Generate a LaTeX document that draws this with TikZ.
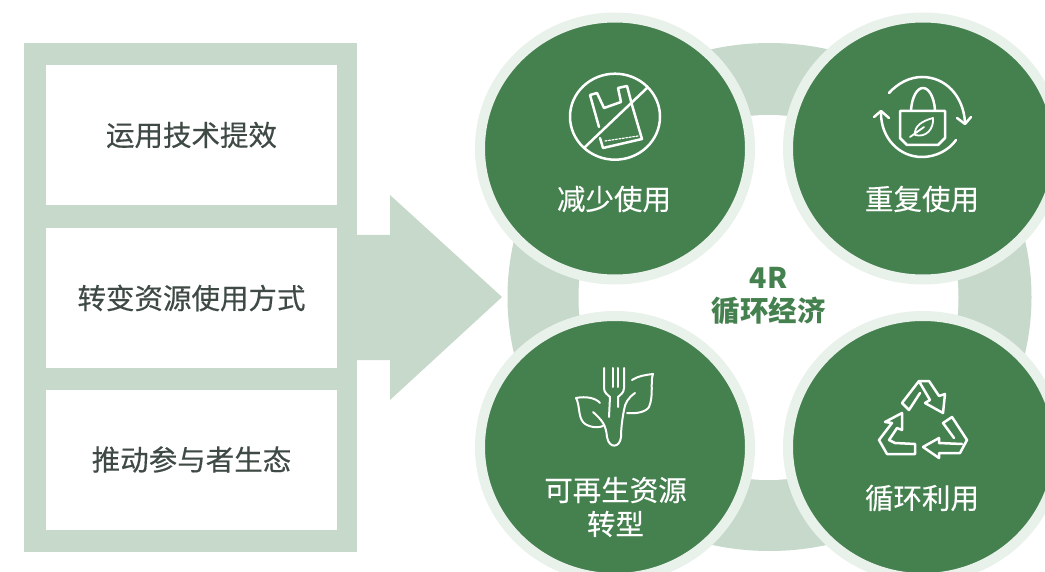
\documentclass[tikz,border=0pt]{standalone}
\usepackage{fontspec}
\usetikzlibrary{shapes.geometric}
\setmainfont{Noto Sans CJK SC}
\newfontfamily\heavier[FakeBold=0.35]{Noto Sans CJK SC}
\definecolor{pale}{HTML}{C6D9CB}
\definecolor{halo}{HTML}{E9F1EB}
\definecolor{dark}{HTML}{45804F}
\definecolor{ink}{HTML}{3F4A44}
\tikzset{
  whitebox/.style={draw=none,fill=white,minimum width=291,minimum height=140,inner sep=0,text=ink,font=\heavier\fontsize{28.5}{30}\selectfont},
  bigdisc/.style={ellipse,fill=dark,draw=halo,line width=10,minimum width=270,minimum height=262,inner sep=0,outer sep=0},
  captext/.style={text=white,font=\heavier\fontsize{28.5}{34}\selectfont,align=center,inner sep=0},
  ico/.style={draw=white,line width=2.5,line cap=round,line join=round},
}
\begin{document}
\begin{tikzpicture}[x=1pt,y=-1pt]
\useasboundingbox (0,0) rectangle (1045,572);
\fill[white] (0,0) rectangle (1045,572);
\begin{scope}
\clip (0,0) rectangle (1045,572);
% left frame + arrow
\fill[pale] (24,43) rectangle (357,552);
\fill[pale] (357,235) -- (390,235) -- (390,195) -- (502,297) -- (390,400) -- (390,360) -- (357,360) -- cycle;
\node[whitebox] (b1) at (191.5,135) {运用技术提效};
\node[whitebox] (b2) at (191.5,298) {转变资源使用方式};
\node[whitebox] (b3) at (191.5,459.5) {推动参与者生态};
% ring
\fill[pale] (769.5,297) ellipse [x radius=262,y radius=254];
\fill[white] (768.5,297.5) ellipse [x radius=190,y radius=182.5];
\node[text=dark,font=\fontsize{28.5}{33}\selectfont\bfseries,align=center,inner sep=0] (c) at (768.5,296.5) {4R\\循环经济};
% discs
\node[bigdisc] (d1) at (615,148.5) {};
\node[bigdisc] (d2) at (923,148.5) {};
\node[bigdisc] (d3) at (615,447) {};
\node[bigdisc] (d4) at (923,447) {};
\node[captext] (t1) at (614,199) {减少使用};
\node[captext] (t2) at (922,199) {重复使用};
\node[captext] (t3) at (615.5,507) {可再生资源\\转型};
\node[captext] (t4) at (922,498) {循环利用};
% icon 1: no plastic bag
\draw[ico] (615,116.7) ellipse [x radius=45,y radius=43];
\draw[ico] (585,147) -- (647,88);
\draw[ico] (599,127) -- (590,95) -- (597,93) -- (604,108) -- (621,102) -- (618,88) -- (627,86) -- (632,105) -- (642,139) -- (603,148) -- (600,138);
\draw[ico,line width=1.2,dash pattern=on 2pt off 1.5pt] (605,141) -- (638,136);
% icon 2: bag with arrows
\draw[ico] (889,93) .. controls (898,83) and (910,77) .. (922,77) .. controls (945,77) and (963,95) .. (965,122);
\draw[ico] (957,118) -- (965,124) -- (971,117);
\draw[ico] (956,140) .. controls (949,150) and (936,157) .. (922,157) .. controls (899,157) and (881,138) .. (881,113);
\draw[ico] (874,117) -- (881,111) -- (889,118);
\draw[ico] (900,111) -- (945,111) -- (945,138) -- (938,145) -- (907,145) -- (900,138) -- cycle;
\draw[ico] (911,110) .. controls (912,97) and (917,88) .. (923,88) .. controls (929,88) and (934,97) .. (935,110);
\draw[ico,line width=1.8] (915,135) .. controls (914,126) and (922,121) .. (933,118) .. controls (934,129) and (926,138) .. (915,135) (910,137) -- (924,127);
% icon 3: fork and leaves
\draw[ico,line width=2] (604,368) -- (604,388) .. controls (604,393) and (608,395) .. (610,397) -- (609,417);
\draw[ico,line width=2] (613,368) -- (613,387) (618,368) -- (618,387);
\draw[ico,line width=2] (624,368) -- (624,388) .. controls (624,393) and (620,395) .. (618,397) -- (618,407);
\draw[ico,line width=2] (632,380) .. controls (638,376) and (645,375) .. (653,374) .. controls (650,382) and (654,395) .. (649,407) .. controls (646,412) and (636,414) .. (627,413);
\draw[ico,line width=2] (635,393) .. controls (628,398) and (625,403) .. (624,410) .. controls (622,420) and (621,430) .. (621,437) .. controls (620,448) and (609,449) .. (607,437) .. controls (606,425) and (602,420) .. (593,412);
\draw[ico,line width=2] (600,403) .. controls (596,398) and (586,396) .. (576,398) .. controls (580,405) and (578,416) .. (583,422) .. controls (586,426) and (596,429) .. (603,426);
% icon 4: recycle
\draw[ico] (920,393) -- (909,410) -- (902,403) -- (919,381) -- (929,381) -- (939,396) -- (945,394) -- (943,413) -- (925,403) -- (930,400) -- (920,383);
\draw[ico] (954,438) -- (943,423) -- (952,417) -- (967,440) -- (960,453) -- (939,453) -- (939,458) -- (923,447) -- (939,438) -- (939,443) -- (962,444);
\draw[ico] (902,413) -- (885,422) -- (892,423) -- (879,440) -- (887,454) -- (915,454) -- (915,444) -- (895,443) -- (889,440) -- (897,428) -- (902,430) -- cycle;
\end{scope}
\end{tikzpicture}
\end{document}
